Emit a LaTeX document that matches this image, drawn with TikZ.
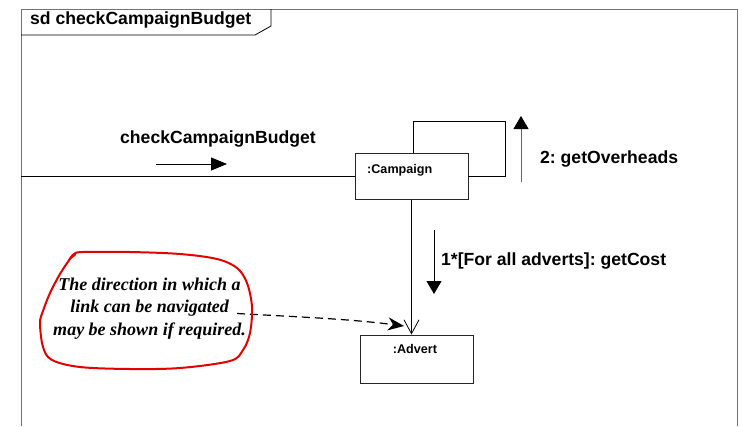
\documentclass[tikz,border=0pt]{standalone}
\usepackage{fontspec}
\setmainfont{Liberation Sans}
\newfontfamily\notefont{Liberation Serif}
\usetikzlibrary{arrows.meta}
\frenchspacing

\tikzset{
  frameline/.style={draw=black!55, line width=0.9pt},
  tabline/.style={draw=black, line width=0.8pt},
  objbox/.style={draw=black!85, line width=0.8pt, rectangle, inner sep=0pt},
  objname/.style={inner sep=0pt, font=\fontsize{12.6}{14}\selectfont\bfseries},
  msglabel/.style={inner sep=0pt, font=\fontsize{17.6}{20}\selectfont\bfseries},
  msgarrow/.style={draw=black, line width=0.8pt,
    -{Triangle[length=13pt,width=15pt,color=black]}},
  linkline/.style={draw=black, line width=0.8pt},
  notetext/.style={inner sep=0pt, align=center,
    font=\notefont\fontsize{18}{22.5}\selectfont\bfseries\itshape},
  pointer/.style={draw=black, line width=1.2pt, dash pattern=on 8pt off 5pt,
    -{Stealth[length=16pt,width=13pt,inset=5pt]}},
  scribble/.style={draw=red!90!black, line width=2pt, line cap=round, line join=round}
}

\begin{document}
\begin{tikzpicture}[x=1pt,y=-1pt]
\useasboundingbox (0,0) rectangle (742,426);
\fill[white] (0,0) rectangle (742,426);

% interaction frame and its name tab
\draw[frameline] (21,426) -- (21,9) -- (737,9) -- (737,426);
\draw[tabline] (21,35) -- (255,35) -- (271,26) -- (271,9);
\node[msglabel, anchor=base west] (title) at (30,24.5) {sd checkCampaignBudget};

% lifeline objects
\node[objbox, minimum width=113pt, minimum height=46pt] (camp) at (411.5,176.5) {};
\node[objname, anchor=base west] (campname) at (367,173) {:Campaign};
\node[objbox, minimum width=113pt, minimum height=48pt] (adv) at (416.5,359) {};
\node[objname, anchor=base] (advname) at (415,353) {:Advert};

% incoming message from the frame gate
\coordinate (gate) at (21,176.5);
\draw[linkline] (gate) -- (camp.west);
\node[msglabel, anchor=base west] (m0) at (120,143) {checkCampaignBudget};
\coordinate (m0a) at (156,164);
\coordinate (m0b) at (227,164);
\draw[msgarrow, -{Triangle[length=16pt,width=13pt]}] (m0a) -- (m0b);

% self link on :Campaign
\draw[linkline] ([xshift=1.5pt]camp.north) |- (505,121) |- (camp.east);
\coordinate (m2a) at (521,182);
\coordinate (m2b) at (521,116);
\draw[msgarrow, draw=black!60] (m2a) -- (m2b);
\node[msglabel, anchor=base west] (m2) at (540,163.5) {2: getOverheads};

% navigable link to :Advert
\draw[linkline, -{Straight Barb[length=14pt,width=15pt,line width=0.8pt]}]
  (camp.south) -- (camp.south |- adv.north);
\coordinate (m1a) at (434,230);
\coordinate (m1b) at (434,294);
\draw[msgarrow] (m1a) -- (m1b);
\node[msglabel, anchor=base west] (m1) at (441,265.5) {1*[For all adverts]: getCost};

% annotation
\node[notetext] (note) at (149.5,308.5)
  {The direction in which a\\link can be navigated\\may be shown if required.};
\coordinate (ptrstart) at (237,313.5);
\coordinate (ptrend) at (404,326);
\draw[pointer] (ptrstart) .. controls (300,317) and (350,319) .. (ptrend);

\draw[scribble] plot[smooth, tension=0.55] coordinates {
  (69,260) (74,254) (83,252) (130,252) (180,254) (217,259) (237,268)
  (247,283) (252,307) (250,333) (243,350) (230,361) (180,368)
  (130,369) (80,367) (52,360) (43,347) (40,323) (43,311) (50,293)
  (60,274) (70,259) (75,255)};
\end{tikzpicture}
\end{document}
